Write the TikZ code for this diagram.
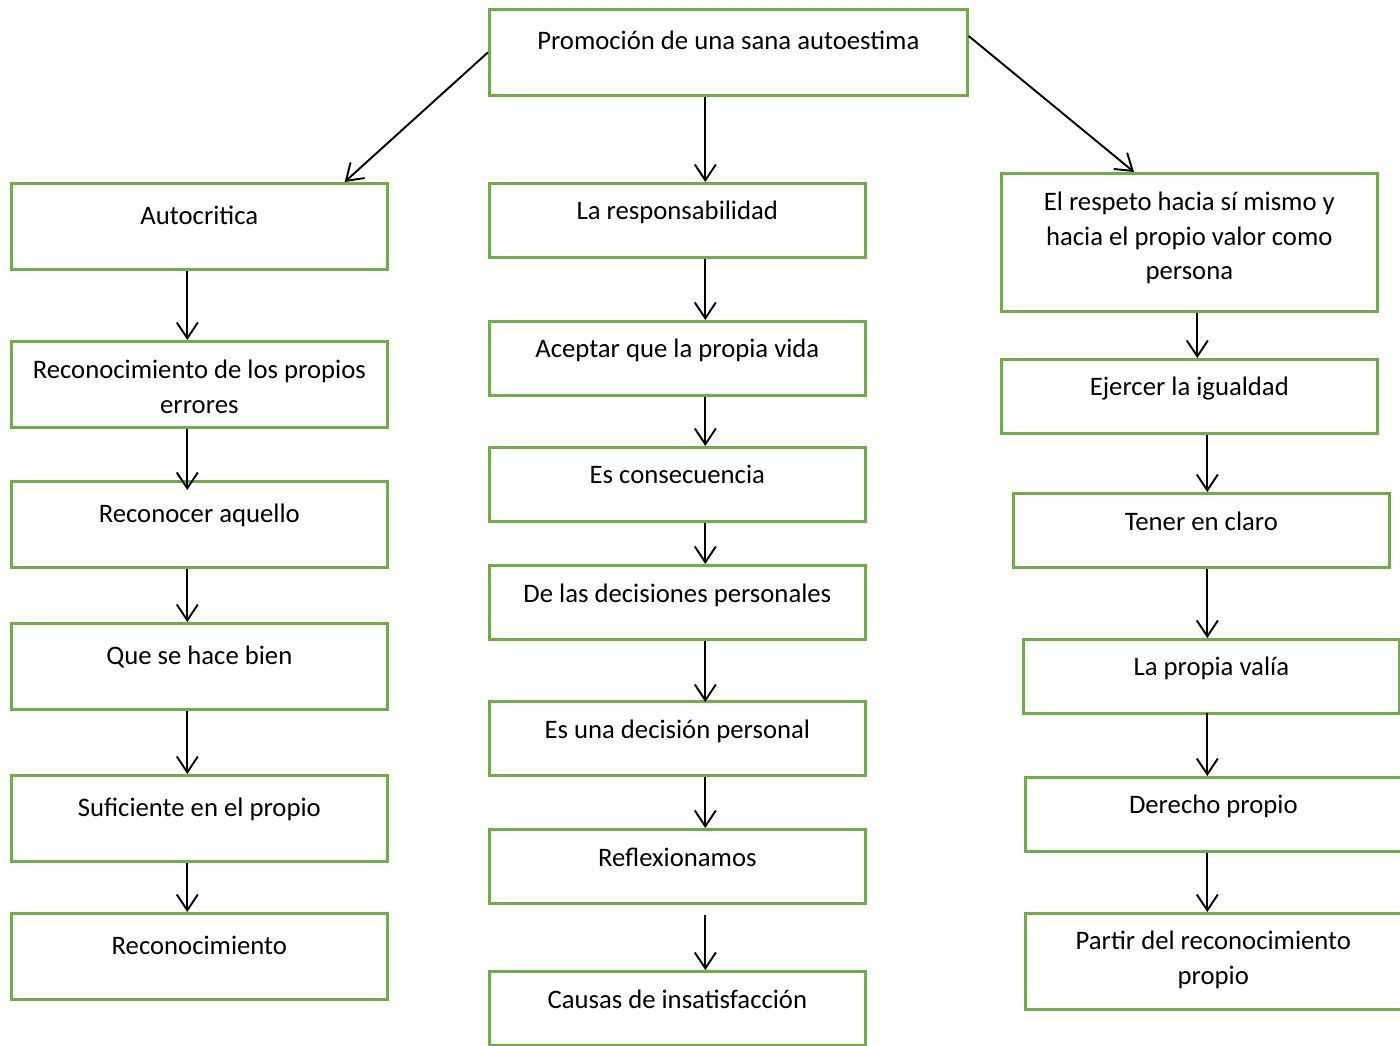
\documentclass[tikz,border=0pt]{standalone}
\usepackage{fontspec}
\setmainfont{Carlito}
\usetikzlibrary{arrows.meta,calc}
\definecolor{boxgreen}{HTML}{70AD47}
\newlength\mypx
\setlength\mypx{0.02cm}
% #1 width px, #2 height px, #3 baseline offset px, #4 text
\newcommand\bxt[4]{\parbox[c][#2\mypx][t]{#1\mypx}{\centering\rule{0pt}{#3\mypx}#4}}
\begin{document}
\begin{tikzpicture}[x=0.02cm,y=-0.02cm,
  box/.style={draw=boxgreen, line width=1.5pt, inner sep=0pt, anchor=north west,
    font=\fontsize{15.2pt}{19.8pt}\selectfont},
  arr/.style={draw=black, line width=1.1pt, -{Straight Barb[length=9pt,width=12pt]}}]
\useasboundingbox (0,0) rectangle (1400,1045);
% top
\node[box] (top) at (488,8) {\bxt{478}{86}{40}{Promoción de una sana autoestima}};
% left column
\node[box] (l1) at (10,182) {\bxt{376}{86}{41}{Autocritica}};
\node[box] (l2) at (10,340) {\bxt{376}{86}{37}{Reconocimiento de los propios\\errores}};
\node[box] (l3) at (10,480) {\bxt{376}{86}{41}{Reconocer aquello}};
\node[box] (l4) at (10,622) {\bxt{376}{86}{41}{Que se hace bien}};
\node[box] (l5) at (10,774) {\bxt{376}{86}{41}{Suficiente en el propio}};
\node[box] (l6) at (10,912) {\bxt{376}{86}{41}{Reconocimiento}};
% middle column
\node[box] (m1) at (488,182) {\bxt{376}{74}{36}{La responsabilidad}};
\node[box] (m2) at (488,320) {\bxt{376}{74}{36}{Aceptar que la propia vida}};
\node[box] (m3) at (488,446) {\bxt{376}{74}{36}{Es consecuencia}};
\node[box] (m4) at (488,564) {\bxt{376}{74}{37}{De las decisiones personales}};
\node[box] (m5) at (488,700) {\bxt{376}{74}{37}{Es una decisión personal}};
\node[box] (m6) at (488,828) {\bxt{376}{74}{37}{Reflexionamos}};
\node[box] (m7) at (488,970) {\bxt{376}{74}{37}{Causas de insatisfacción}};
% right column
\node[box] (r1) at (1000,172) {\bxt{376}{138}{37}{El respeto hacia sí mismo y\\hacia el propio valor como\\persona}};
\node[box] (r2) at (1000,358) {\bxt{376}{74}{36}{Ejercer la igualdad}};
\node[box] (r3) at (1012,492) {\bxt{376}{74}{37}{Tener en claro}};
\node[box] (r4) at (1022,638) {\bxt{376}{74}{36}{La propia valía}};
\node[box] (r5) at (1024,776) {\bxt{376}{74}{36}{Derecho propio}};
\node[box] (r6) at (1024,912) {\bxt{376}{96}{36}{Partir del reconocimiento\\propio}};
% top arrows
\draw[arr] (top.west) -- ($(l1.north east)+(-44,0)$);
\draw[arr] ($(top.south)+(-23,0)$) -- ($(m1.north)+(28,0)$);
\draw[arr] ($(top.north east)+(0,28)$) -- ($(r1.north west)+(134,0)$);
% left arrows
\draw[arr] ($(l1.south)+(-12,0)$) -- ($(l2.north)+(-12,0)$);
\draw[arr] ($(l2.south)+(-12,0)$) -- ($(l3.north)+(-12,10)$);
\draw[arr] ($(l3.south)+(-12,0)$) -- ($(l4.north)+(-12,0)$);
\draw[arr] ($(l4.south)+(-12,0)$) -- ($(l5.north)+(-12,0)$);
\draw[arr] ($(l5.south)+(-12,0)$) -- ($(l6.north)+(-12,0)$);
% middle arrows
\draw[arr] ($(m1.south)+(28,0)$) -- ($(m2.north)+(28,0)$);
\draw[arr] ($(m2.south)+(28,0)$) -- ($(m3.north)+(28,0)$);
\draw[arr] ($(m3.south)+(28,0)$) -- ($(m4.north)+(28,0)$);
\draw[arr] ($(m4.south)+(28,0)$) -- ($(m5.north)+(28,2)$);
\draw[arr] ($(m5.south)+(28,0)$) -- ($(m6.north)+(28,0)$);
\draw[arr] ($(m6.south)+(28,10)$) -- ($(m7.north)+(28,0)$);
% right arrows
\draw[arr] ($(r1.south)+(8,0)$) -- ($(r2.north)+(8,0)$);
\draw[arr] ($(r2.south)+(18,0)$) -- ($(r3.north)+(6,0)$);
\draw[arr] ($(r3.south)+(6,0)$) -- ($(r4.north)+(-4,0)$);
\draw[arr] ($(r4.south)+(-4,-2)$) -- ($(r5.north)+(-6,0)$);
\draw[arr] ($(r5.south)+(-6,0)$) -- ($(r6.north)+(-6,0)$);
\end{tikzpicture}
\end{document}
